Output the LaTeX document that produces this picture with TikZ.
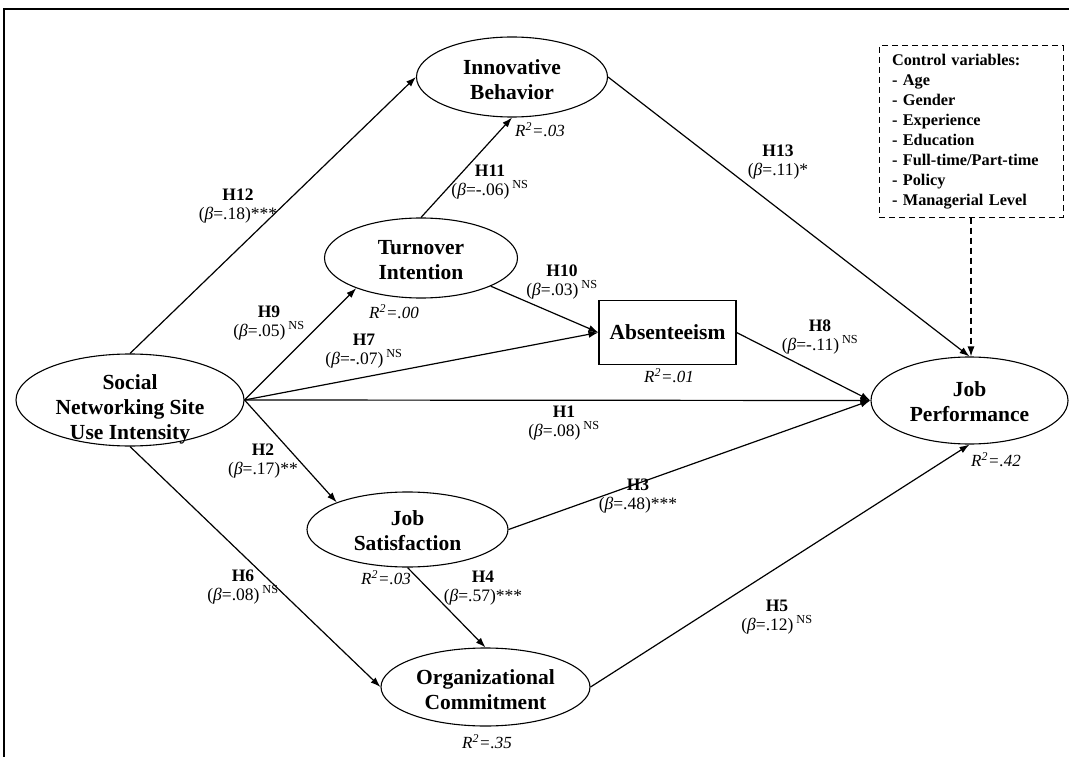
\documentclass[tikz,border=0pt]{standalone}
\usepackage{fontspec}
\setmainfont{Liberation Serif}
\usetikzlibrary{shapes.geometric,arrows.meta}
\begin{document}
\begin{tikzpicture}[x=1pt,y=-1pt,
  ell/.style={draw, ellipse, line width=1.1pt, inner sep=0pt},
  ntext/.style={align=center, font=\fontsize{21.5}{25}\selectfont\bfseries, inner sep=0pt},
  lbl/.style={align=center, font=\fontsize{17.5}{18.5}\selectfont, inner sep=0pt},
  rsq/.style={font=\fontsize{17}{20}\selectfont\itshape, inner sep=0pt},
  conn/.style={line width=1.2pt, -{Latex[length=10pt,width=7pt]}},
  dsh/.style={dash pattern=on 6pt off 4pt},
]
\useasboundingbox (0,0) rectangle (1069,757);
\begin{scope}
  \clip (0,0) rectangle (1069,757);
  \draw[line width=2.5pt] (4,800) -- (4,9) -- (1100,9);
\end{scope}

% ellipses and box
\node[ell, minimum width=191, minimum height=80] (ib) at (512,77) {};
\node[ntext] (ibt) at (512,80) {Innovative\\Behavior};
\node[ell, minimum width=193, minimum height=80] (ti) at (421,258) {};
\node[ntext] (tit) at (421,260) {Turnover\\Intention};
\node[draw, line width=1.1pt, minimum width=137, minimum height=64, inner sep=0pt] (abs) at (667.5,332.5) {};
\node[ntext] (abst) at (667.5,332) {Absenteeism};
\node[ell, minimum width=228, minimum height=92] (sns) at (130,400) {};
\node[ntext] (snst) at (130,409) {Social\\Networking Site\\Use Intensity};
\node[ell, minimum width=197, minimum height=87] (jp) at (969.5,400.5) {};
\node[ntext] (jpt) at (969.5,402) {Job\\Performance};
\node[ell, minimum width=201, minimum height=75] (js) at (407.5,529.5) {};
\node[ntext] (jst) at (407.5,531) {Job\\Satisfaction};
\node[ell, minimum width=209, minimum height=78] (oc) at (485.5,687) {};
\node[ntext] (oct) at (485.5,690) {Organizational\\Commitment};

\node[draw, dsh, line width=1pt, minimum width=184, minimum height=171, inner xsep=13pt, inner ysep=0pt,
      text width=158, align=left, font=\fontsize{16.3}{20}\selectfont\bfseries] (ctrl) at (971,131.5)
  {Control variables:\\- Age\\- Gender\\- Experience\\- Education\\- Full-time/Part-time\\- Policy\\- Managerial Level};

% connectors
\draw[conn] (sns.north) -- (ib.west);
\draw[conn] (ti.north) -- (ib.south);
\draw[conn] (ib.east) -- (jp.north);
\draw[conn, dsh] (ctrl.south) -- (jp.north -| ctrl.south);
\draw[conn] (sns.east) -- (ti.205);
\draw[conn] (sns.east) -- (abs.west);
\draw[conn] (ti.-22) -- (abs.west);
\draw[conn] (sns.east) -- (jp.west);
\draw[conn] (abs.east) -- (jp.west);
\draw[conn] (sns.east) -- (js.159);
\draw[conn] (js.east) -- (jp.west);
\draw[conn] (js.south) -- (oc.north);
\draw[conn] (sns.south) -- (oc.west);
\draw[conn] (oc.east) -- (jp.south);

% path labels
\node[lbl] (l12) at (238,206) {\textbf{H12}\\(\textit{β}=.18)***};
\node[lbl] (l11) at (490,182) {\textbf{H11}\\(\textit{β}=-.06)\,\textsuperscript{NS}};
\node[lbl] (l13) at (778,162) {\textbf{H13}\\(\textit{β}=.11)*};
\node[lbl] (l10) at (562,282) {\textbf{H10}\\(\textit{β}=.03)\,\textsuperscript{NS}};
\node[lbl] (l9) at (269,323) {\textbf{H9}\\(\textit{β}=.05)\,\textsuperscript{NS}};
\node[lbl] (l7) at (364,351) {\textbf{H7}\\(\textit{β}=-.07)\,\textsuperscript{NS}};
\node[lbl] (l8) at (820,337) {\textbf{H8}\\(\textit{β}=-.11)\,\textsuperscript{NS}};
\node[lbl] (l1) at (564,423) {\textbf{H1}\\(\textit{β}=.08)\,\textsuperscript{NS}};
\node[lbl] (l2) at (263,461) {\textbf{H2}\\(\textit{β}=.17)**};
\node[lbl] (l3) at (638,496) {\textbf{H3}\\(\textit{β}=.48)***};
\node[lbl] (l6) at (243,587) {\textbf{H6}\\(\textit{β}=.08)\,\textsuperscript{NS}};
\node[lbl] (l4) at (483,588) {\textbf{H4}\\(\textit{β}=.57)***};
\node[lbl] (l5) at (777,617) {\textbf{H5}\\(\textit{β}=.12)\,\textsuperscript{NS}};

% R squared
\node[rsq] (r1) at (540,130) {R\textsuperscript{2}=.03};
\node[rsq] (r2) at (394,312) {R\textsuperscript{2}=.00};
\node[rsq] (r3) at (669,376) {R\textsuperscript{2}=.01};
\node[rsq] (r4) at (996,460) {R\textsuperscript{2}=.42};
\node[rsq] (r5) at (386,578) {R\textsuperscript{2}=.03};
\node[rsq] (r6) at (487,742) {R\textsuperscript{2}=.35};
\end{tikzpicture}
\end{document}
